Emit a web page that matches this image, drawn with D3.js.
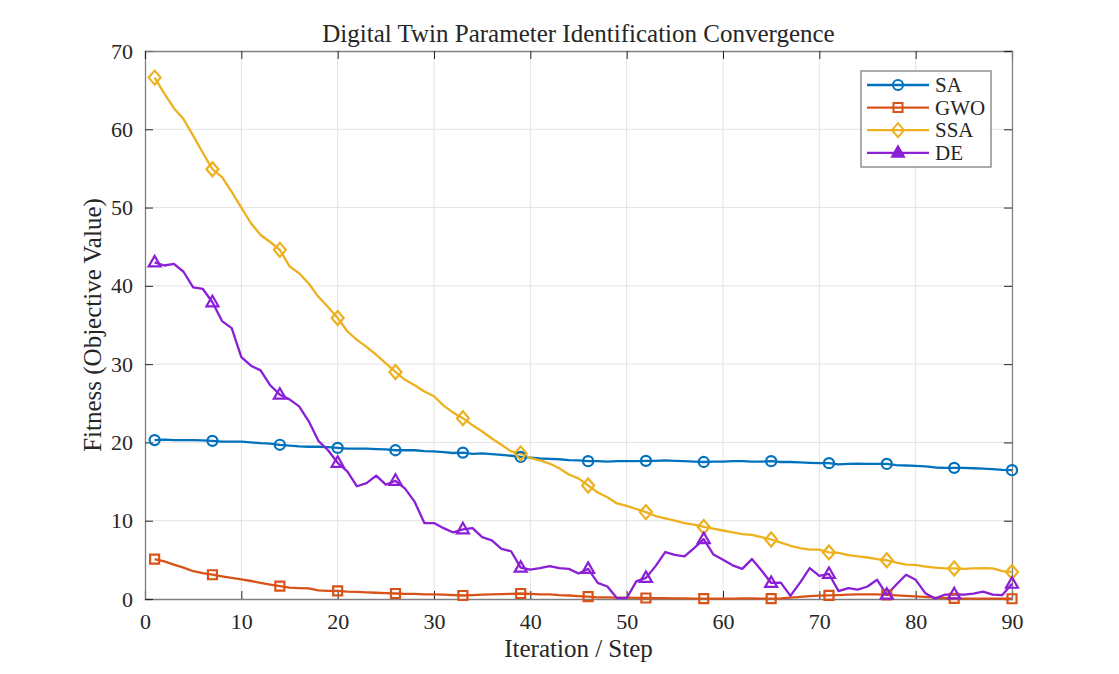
<!DOCTYPE html>
<html>
<head>
<meta charset="utf-8">
<script src="https://cdn.jsdelivr.net/npm/d3@7"></script>
<style>
  body { margin: 0; background: #fff; }
  svg text { font-family: "Liberation Serif", "Times New Roman", serif; fill: #262626; }
</style>
</head>
<body>
<div id="chart"></div>
<script>
// fitness per iteration
var steps = d3.range(1, 91);
var markerSteps = [1, 7, 14, 20, 26, 33, 39, 46, 52, 58, 65, 71, 77, 84, 90];

var saValues = [20.3, 20.35, 20.3, 20.3, 20.3, 20.25, 20.2, 20.1, 20.1, 20.1,
  20.0, 19.9, 19.85, 19.7, 19.6, 19.5, 19.45, 19.45, 19.4, 19.3,
  19.2, 19.2, 19.2, 19.15, 19.1, 19.0, 19.0, 19.0, 18.9, 18.85,
  18.75, 18.65, 18.7, 18.55, 18.6, 18.5, 18.4, 18.3, 18.15, 18.05,
  17.95, 17.9, 17.85, 17.75, 17.7, 17.6, 17.6, 17.55, 17.6, 17.6,
  17.6, 17.65, 17.65, 17.7, 17.65, 17.6, 17.55, 17.5, 17.55, 17.55,
  17.6, 17.6, 17.55, 17.55, 17.6, 17.5, 17.5, 17.45, 17.4, 17.35,
  17.35, 17.2, 17.25, 17.3, 17.25, 17.25, 17.25, 17.1, 17.05, 17.0,
  16.95, 16.8, 16.75, 16.75, 16.75, 16.7, 16.65, 16.6, 16.5, 16.45];

var gwoValues = [5.1, 4.8, 4.4, 4.0, 3.55, 3.3, 3.1, 2.9, 2.7, 2.5,
  2.3, 2.05, 1.85, 1.65, 1.45, 1.4, 1.35, 1.1, 1.05, 1.05,
  0.95, 0.9, 0.85, 0.8, 0.75, 0.7, 0.65, 0.65, 0.6, 0.6,
  0.55, 0.5, 0.45, 0.5, 0.55, 0.6, 0.62, 0.65, 0.7, 0.65,
  0.6, 0.6, 0.5, 0.45, 0.38, 0.3, 0.22, 0.2, 0.17, 0.17,
  0.14, 0.13, 0.1, 0.1, 0.08, 0.08, 0.06, 0.05, 0.05, 0.05,
  0.06, 0.07, 0.07, 0.06, 0.05, 0.08, 0.17, 0.28, 0.36, 0.44,
  0.47, 0.5, 0.55, 0.58, 0.6, 0.58, 0.52, 0.46, 0.4, 0.34,
  0.26, 0.18, 0.13, 0.09, 0.06, 0.05, 0.04, 0.04, 0.03, 0.03];

var ssaValues = [66.6, 64.6, 62.7, 61.3, 59.2, 57.0, 54.9, 53.9, 52.0, 50.0,
  48.0, 46.5, 45.6, 44.6, 42.5, 41.6, 40.3, 38.6, 37.3, 35.9,
  34.2, 33.1, 32.2, 31.2, 30.1, 29.0, 28.0, 27.3, 26.5, 25.9,
  24.7, 23.8, 23.1, 22.2, 21.4, 20.5, 19.7, 18.85, 18.6, 18.0,
  17.7, 17.3, 16.7, 15.9, 15.4, 14.5, 13.6, 13.0, 12.2, 11.9,
  11.5, 11.1, 10.6, 10.3, 10.0, 9.7, 9.5, 9.2, 9.0, 8.75,
  8.5, 8.3, 8.2, 7.9, 7.6, 7.2, 6.8, 6.5, 6.3, 6.3,
  5.95, 5.9, 5.6, 5.45, 5.3, 5.1, 4.95, 4.65, 4.4, 4.35,
  4.15, 4.0, 3.9, 3.9, 3.85, 3.9, 3.95, 3.9, 3.55, 3.45];

var deValues = [43.0, 42.6, 42.8, 41.8, 39.8, 39.6, 37.9, 35.5, 34.6, 30.9,
  29.8, 29.2, 27.3, 26.1, 25.5, 24.6, 22.7, 20.2, 19.0, 17.4,
  16.3, 14.4, 14.8, 15.75, 14.6, 15.1, 14.1, 12.4, 9.7, 9.7,
  9.05, 8.5, 8.9, 9.05, 7.9, 7.5, 6.4, 6.1, 4.0, 3.75,
  3.95, 4.2, 3.95, 3.85, 3.25, 3.85, 2.05, 1.6, 0.1, 0.1,
  2.25, 2.7, 4.2, 6.0, 5.65, 5.45, 6.5, 7.65, 5.7, 5.0,
  4.3, 3.85, 5.1, 3.65, 2.05, 2.1, 0.4, 2.1, 3.95, 2.95,
  3.2, 1.0, 1.4, 1.2, 1.6, 2.45, 0.55, 1.85, 3.1, 2.45,
  0.75, 0.05, 0.55, 0.6, 0.55, 0.7, 0.95, 0.55, 0.5, 1.95];

var seriesNames = ["SA", "GWO", "SSA", "DE"];
var seriesColors = ["#0072BD", "#D95319", "#EDB120", "#8A1FD6"];
var seriesMarkers = ["circle", "square", "diamond", "triangle"];
var xTicks = [0, 10, 20, 30, 40, 50, 60, 70, 80, 90];
var yTicks = [0, 10, 20, 30, 40, 50, 60, 70];

var series = [saValues, gwoValues, ssaValues, deValues].map(function(vals, i) {
  return {
    name: seriesNames[i],
    color: seriesColors[i],
    marker: seriesMarkers[i],
    points: steps.map(function(s, j) { return {x: s, y: vals[j]}; })
  };
});

var W = 1119, H = 674;
var margin = {top: 51, right: 107, bottom: 75, left: 145};
var width = W - margin.left - margin.right,
    height = H - margin.top - margin.bottom;

var svg = d3.select("#chart").append("svg")
    .attr("width", W)
    .attr("height", H);

var g = svg.append("g")
    .attr("transform", "translate(" + margin.left + "," + margin.top + ")");

var x = d3.scaleLinear().domain([0, 90]).range([0, width]);
var y = d3.scaleLinear().domain([0, 70]).range([height, 0]);

// grid
g.append("g").selectAll("line.vg")
    .data(xTicks.slice(1, -1))
  .enter().append("line")
    .attr("x1", function(d) { return x(d); })
    .attr("x2", function(d) { return x(d); })
    .attr("y1", 0).attr("y2", height)
    .style("stroke", "#e3e3e3").style("stroke-width", 1);

g.append("g").selectAll("line.hg")
    .data(yTicks.slice(1, -1))
  .enter().append("line")
    .attr("y1", function(d) { return y(d); })
    .attr("y2", function(d) { return y(d); })
    .attr("x1", 0).attr("x2", width)
    .style("stroke", "#e3e3e3").style("stroke-width", 1);

// axes (ticks inside, like matlab)
var xAxis = g.append("g")
    .attr("transform", "translate(0," + height + ")")
    .call(d3.axisBottom(x).tickValues(xTicks).tickSize(-8).tickPadding(14));
var yAxis = g.append("g")
    .call(d3.axisLeft(y).tickValues(yTicks).tickSize(-8).tickPadding(12));
var xTop = g.append("g")
    .call(d3.axisTop(x).tickValues(xTicks).tickSize(-8).tickFormat(""));
var yRight = g.append("g")
    .attr("transform", "translate(" + width + ",0)")
    .call(d3.axisRight(y).tickValues(yTicks).tickSize(-8).tickFormat(""));

[xAxis, yAxis, xTop, yRight].forEach(function(a) {
  a.select(".domain").style("stroke", "#7f7f7f").style("stroke-width", 1.3);
  a.selectAll(".tick line").style("stroke", "#262626");
  a.selectAll(".tick text")
    .style("font-family", "'Liberation Serif', serif")
    .style("font-size", "22px")
    .style("fill", "#262626");
});

// lines
var line = d3.line()
    .x(function(d) { return x(d.x); })
    .y(function(d) { return y(d.y); });

g.selectAll("path.series")
    .data(series)
  .enter().append("path")
    .attr("class", "series")
    .attr("d", function(d) { return line(d.points); })
    .style("fill", "none")
    .style("stroke", function(d) { return d.color; })
    .style("stroke-width", 2.3)
    .style("stroke-linejoin", "round");

function markerPath(kind) {
  if (kind === "circle") return d3.symbol().type(d3.symbolCircle).size(80)();
  if (kind === "square") return "M-4.5,-4.5L4.5,-4.5L4.5,4.5L-4.5,4.5Z";
  if (kind === "diamond") return "M0,-7L6,0L0,7L-6,0Z";
  return "M0,-6.5L6,4L-6,4Z";
}

series.forEach(function(s) {
  g.append("g").selectAll("path")
      .data(s.points.filter(function(p) { return markerSteps.indexOf(p.x) >= 0; }))
    .enter().append("path")
      .attr("transform", function(d) { return "translate(" + x(d.x) + "," + y(d.y) + ")"; })
      .attr("d", markerPath(s.marker))
      .style("fill", "none")
      .style("stroke", s.color)
      .style("stroke-width", 2.2);
});

// legend
var legend = svg.append("g").attr("transform", "translate(861,71)");
legend.append("rect")
    .attr("width", 130).attr("height", 96)
    .style("fill", "#fff").style("stroke", "#7f7f7f").style("stroke-width", 1.3);

var item = legend.selectAll("g.item")
    .data(series)
  .enter().append("g")
    .attr("class", "item")
    .attr("transform", function(d, i) { return "translate(0," + (14 + i * 22.6) + ")"; });

item.append("line")
    .attr("x1", 6).attr("x2", 68)
    .style("stroke", function(d) { return d.color; })
    .style("stroke-width", 2.3);
item.append("path")
    .attr("transform", "translate(37,0)")
    .attr("d", function(d) { return markerPath(d.marker); })
    .style("fill", function(d) { return d.marker === "triangle" ? d.color : "none"; })
    .style("stroke", function(d) { return d.color; })
    .style("stroke-width", 2);
item.append("text")
    .attr("x", 74).attr("y", 7)
    .style("font-size", "21px")
    .text(function(d) { return d.name; });

// titles
svg.append("text")
    .attr("x", margin.left + width / 2).attr("y", 42)
    .attr("text-anchor", "middle")
    .style("font-size", "25px")
    .text("Digital Twin Parameter Identification Convergence");

svg.append("text")
    .attr("x", margin.left + width / 2).attr("y", 657)
    .attr("text-anchor", "middle")
    .style("font-size", "25px")
    .text("Iteration / Step");

svg.append("text")
    .attr("transform", "translate(101," + (margin.top + height / 2) + ") rotate(-90)")
    .attr("text-anchor", "middle")
    .style("font-size", "25px")
    .text("Fitness (Objective Value)");
</script>
</body>
</html>
